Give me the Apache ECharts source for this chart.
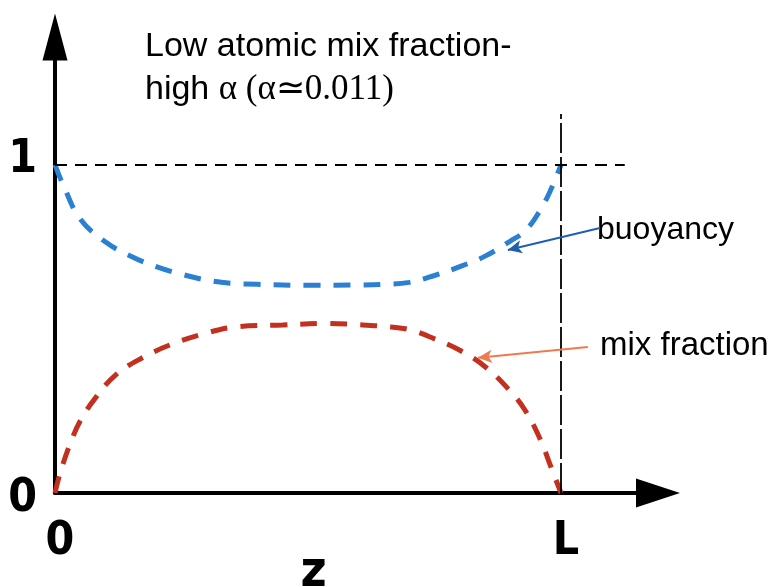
<!DOCTYPE html>
<html><head><meta charset="utf-8">
<script src="https://cdn.jsdelivr.net/npm/echarts@6/dist/echarts.min.js"></script>
<style>html,body{margin:0;padding:0;background:#fff}#c{width:783px;height:587px}</style>
</head><body><div id="c"></div>
<script>
// z / L positions and values
const buoyancyZ = [0, 0.02, 0.05, 0.1, 0.15, 0.2, 0.25, 0.3, 0.35, 0.4, 0.5, 0.6, 0.65, 0.7, 0.75, 0.8, 0.85, 0.9, 0.93, 0.96, 0.98, 1.0];
const buoyancy  = [1.0, 0.925, 0.835, 0.765, 0.722, 0.69, 0.667, 0.649, 0.639, 0.636, 0.633, 0.634, 0.636, 0.642, 0.663, 0.69, 0.722, 0.768, 0.80, 0.865, 0.925, 1.0];
const mixZ      = [0, 0.01, 0.03, 0.05, 0.08, 0.12, 0.17, 0.23, 0.3, 0.36, 0.45, 0.53, 0.6, 0.65, 0.7, 0.75, 0.8, 0.85, 0.9, 0.93, 0.96, 0.98, 1.0];
const mixFraction = [0, 0.06, 0.15, 0.22, 0.29, 0.36, 0.41, 0.453, 0.488, 0.507, 0.512, 0.517, 0.513, 0.508, 0.498, 0.47, 0.435, 0.385, 0.31, 0.25, 0.16, 0.08, 0];
const xTickValues = [0, 1];
const xTickLabels = ['0', 'L'];
const yTickValues = [0, 1];
const yTickLabels = ['0', '1'];
const seriesNames = ['buoyancy', 'mix fraction'];
const titleLine1 = 'Low atomic mix fraction-';
const titleLine2a = 'high ';
const titleLine2b = 'α (α≃0.011)';
const xAxisName = 'z';
// reference lines (data units)
const refLevel = 1;          // horizontal dashed line at y = 1
const refLevelEnd = 1.126;   // its right end in z/L
const lengthL = 1;           // vertical line at z = L
const lengthLTop = 1.155;    // its top in y
// annotation arrows [from, to] in data units
const buoyArrow = [[1.077, 0.808], [0.895, 0.741]];
const mixArrow = [[1.053, 0.445], [0.836, 0.412]];

const narrow = "'Liberation Sans Narrow', 'DejaVu Sans Condensed', 'Liberation Sans', Arial, sans-serif";
const sans = "'Liberation Sans', Arial, sans-serif";
const serif = "'Liberation Serif', 'Times New Roman', serif";

const chart = echarts.init(document.getElementById('c'), null, {renderer: 'canvas'});
const xLabelMap = {}; xTickValues.forEach((v, i) => xLabelMap[v] = xTickLabels[i]);
const yLabelMap = {}; yTickValues.forEach((v, i) => yLabelMap[v] = yTickLabels[i]);

chart.setOption({
  animation: false,
  backgroundColor: '#fff',
  grid: {left: 55, right: 125, top: 37, bottom: 94, containLabel: false, outerBoundsMode: 'none'},
  xAxis: {
    type: 'value', min: 0, max: 1.1917,
    splitLine: {show: false},
    axisTick: {show: false},
    axisLine: {show: true, lineStyle: {color: '#000', width: 4}, symbol: ['none', 'triangle'], symbolSize: [29, 44]},
    axisLabel: {customValues: xTickValues, formatter: v => xLabelMap[v] ?? '', color: '#000',
      fontFamily: narrow, fontWeight: 'bold', fontSize: 46, margin: 26, padding: [0, 0, 0, 10]},
    name: xAxisName, nameLocation: 'middle', nameGap: 55, nameMoveOverlap: false,
    nameTextStyle: {color: '#000', fontFamily: narrow, fontWeight: 'bold', fontSize: 50, padding: [0, 86, 0, 0]}
  },
  yAxis: {
    type: 'value', min: 0, max: 1.390,
    splitLine: {show: false},
    axisTick: {show: false},
    axisLine: {show: true, lineStyle: {color: '#000', width: 4}, symbol: ['none', 'triangle'], symbolSize: [25, 47]},
    axisLabel: {customValues: yTickValues,
      formatter: v => v === 0 ? '{lo|' + yLabelMap[v] + '}' : '{hi|' + (yLabelMap[v] ?? '') + '}',
      rich: {lo: {padding: [12, 0, 0, 0]}, hi: {padding: [0, 0, 10, 0]}},
      color: '#000', fontFamily: narrow, fontWeight: 'bold', fontSize: 46, margin: 18}
  },
  series: [
    {
      name: seriesNames[0], type: 'line', smooth: 0.4, showSymbol: false,
      data: buoyancyZ.map((z, i) => [z, buoyancy[i]]),
      lineStyle: {color: '#2b80d2', width: 5, type: [17, 13], cap: 'butt'},
      markLine: {
        silent: true, symbol: ['none', 'none'], animation: false,
        label: {show: false},
        data: [
          [{coord: [0, refLevel], lineStyle: {color: '#000', width: 2, type: [12, 8]}}, {coord: [refLevelEnd, refLevel]}],
          [{coord: [lengthL, 0], lineStyle: {color: '#000', width: 1.8, type: [30, 4]}}, {coord: [lengthL, lengthLTop]}],
          [{coord: buoyArrow[0], symbol: 'none', lineStyle: {color: '#1f5fb0', width: 2, type: 'solid'}},
           {coord: buoyArrow[1], symbol: 'arrow', symbolSize: [10, 14]}],
          [{coord: mixArrow[0], symbol: 'none', lineStyle: {color: '#ee7a4f', width: 2, type: 'solid'}},
           {coord: mixArrow[1], symbol: 'arrow', symbolSize: [10, 14]}]
        ]
      }
    },
    {
      name: seriesNames[1], type: 'line', smooth: 0.4, showSymbol: false,
      data: mixZ.map((z, i) => [z, mixFraction[i]]),
      lineStyle: {color: '#c4301f', width: 5, type: [17, 13], cap: 'butt'}
    }
  ],
  graphic: [
    {type: 'text', left: 145, top: 30, style: {text: titleLine1, font: '34px ' + sans, fill: '#000'}},
    {type: 'text', left: 145, top: 72, style: {
      text: '{a|' + titleLine2a + '}{b|' + titleLine2b + '}',
      rich: {a: {font: '34px ' + sans, fill: '#000'}, b: {font: '35px ' + serif, fill: '#000'}}, fill: '#000'}},
    {type: 'text', left: 597, top: 214, style: {text: seriesNames[0], font: '32px ' + sans, fill: '#000'}},
    {type: 'text', left: 600, top: 329, style: {text: seriesNames[1], font: '33px ' + sans, fill: '#000'}}
  ]
});
</script></body></html>
